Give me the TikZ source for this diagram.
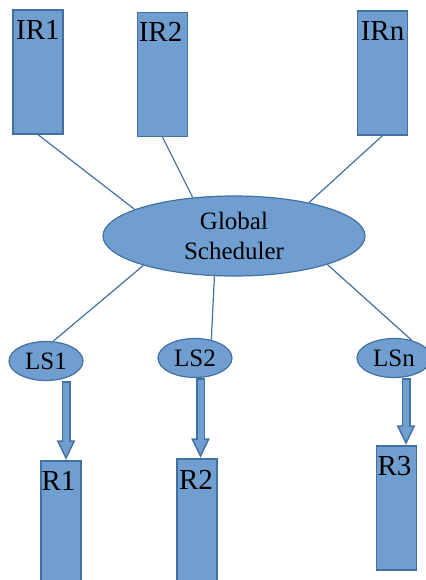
\documentclass[tikz,border=0pt]{standalone}
\usepackage{fontspec}
\setmainfont{Liberation Serif}
\usepackage{tikz}
\usetikzlibrary{calc,shapes.geometric,arrows.meta}

\definecolor{boxfill}{RGB}{112,158,208}
\definecolor{boxedge}{RGB}{65,113,160}

\tikzset{
  resbox/.style={rectangle, draw=boxedge, fill=boxfill, line width=1.2pt, inner sep=0pt, minimum width=#1, minimum height=124},
  schedell/.style={ellipse, draw=boxedge, fill=boxfill, line width=1.2pt, inner sep=0pt, text=black},
  boxtext/.style={anchor=base, inner sep=0pt, text=black, font=\fontsize{29}{34}\selectfont},
  link/.style={draw=boxedge, line width=1.2pt},
  fatout/.style={draw=boxedge, line width=9pt, -{Triangle[length=20pt,width=17pt]}},
  fatin/.style={draw=boxfill, line width=6pt, shorten <=1.5pt, shorten >=3.8pt, -{Triangle[length=14.7pt,width=12.5pt]}}
}

\begin{document}
\begin{tikzpicture}[x=1pt,y=-1pt]
                    \useasboundingbox (0,0) rectangle (425,580);

                    \node[resbox=50] (IR1) at (38,72) {};
                    \node[resbox=50] (IR2) at (162.5,74.5) {};
                    \node[resbox=50] (IRn) at (382.5,73) {};
                    \node[boxtext] (IR1t) at (38,40) {IR1};
                    \node[boxtext] (IR2t) at (160.5,42) {IR2};
                    \node[boxtext] (IRnt) at (382.5,41) {IRn};

                    \node[schedell, minimum width=262, minimum height=80, align=center,
                          font=\fontsize{25}{30}\selectfont] (GS) at (234,236) {Global\\Scheduler};

                    \node[schedell, minimum width=74, minimum height=39,
                          font=\fontsize{25}{30}\selectfont] (LS1) at (46,361) {LS1};
                    \node[schedell, minimum width=74, minimum height=39,
                          font=\fontsize{25}{30}\selectfont] (LS2) at (195,358) {LS2};
                    \node[schedell, minimum width=74, minimum height=39,
                          font=\fontsize{25}{30}\selectfont] (LSn) at (394,358) {LSn};

                    \node[resbox=40] (R1) at (61,523) {};
                    \node[resbox=40] (R2) at (197,521) {};
                    \node[resbox=40] (R3) at (396.5,508) {};
                    \node[boxtext] (R1t) at (58.5,490) {R1};
                    \node[boxtext] (R2t) at (196,489) {R2};
                    \node[boxtext] (R3t) at (394.5,475) {R3};

                    \draw[link] (IR1.south) -- (GS.165);
                    \draw[link] (IR2.south) -- (GS.137);
                    \draw[link] (IRn.south) -- (GS.24);
                    \draw[link] (GS.198) -- (LS1.70);
                    \draw[link] (GS.244) -- (LS2.48);
                    \draw[link] (GS.343) -- (LSn.45);

                    \draw[fatout] ([xshift=20]LS1.south) -- ([xshift=5]R1.north);
                    \draw[fatin] ([xshift=20]LS1.south) -- ([xshift=5]R1.north);
                    \draw[fatout] ([xshift=5.5]LS2.south) -- ([xshift=3.5]R2.north);
                    \draw[fatin] ([xshift=5.5]LS2.south) -- ([xshift=3.5]R2.north);
                    \draw[fatout] ([xshift=12]LSn.south) -- ([xshift=9.5]R3.north);
                    \draw[fatin] ([xshift=12]LSn.south) -- ([xshift=9.5]R3.north);
                    % \draw[link] (GS.south) -- (R2.north);
                \end{tikzpicture}
\end{document}
